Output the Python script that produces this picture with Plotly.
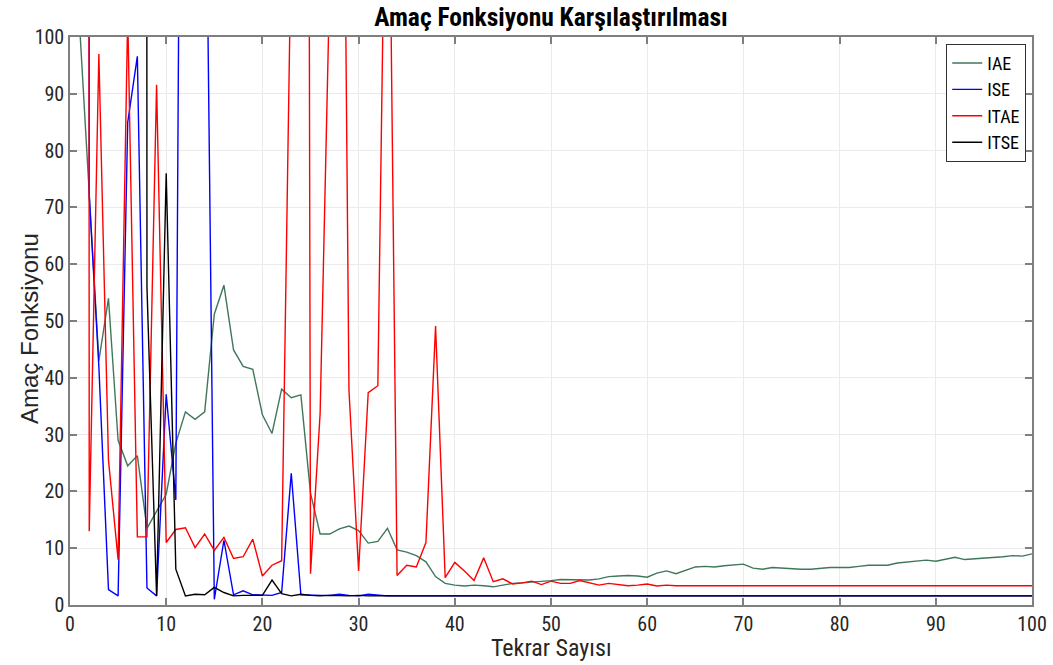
import plotly.graph_objects as go

iterations = list(range(1, 101))

# Values (points above 100 lie outside the visible range)
iae = [102, 72, 43, 54, 29, 24.5, 26.3, 13.5, 16.5, 19.5,
       28.5, 34, 32.7, 34, 51.2, 56.3, 44.9, 42, 41.5, 33.5,
       30.2, 38, 36.5, 37, 19.7, 12.5, 12.5, 13.4, 13.9, 13.1,
       10.9, 11.2, 13.5, 9.7, 9.3, 8.7, 7.6, 5.0, 3.8, 3.5,
       3.35, 3.5, 3.4, 3.2, 3.5, 3.8, 3.9, 4.0, 4.2, 4.3,
       4.5, 4.5, 4.4, 4.4, 4.6, 5.0, 5.1, 5.2, 5.1, 4.9,
       5.6, 6.0, 5.5, 6.1, 6.7, 6.8, 6.7, 6.9, 7.1, 7.2,
       6.5, 6.3, 6.6, 6.5, 6.3, 6.3, 6.3, 6.5, 6.6, 6.6,
       6.6, 6.8, 7.0, 7.0, 7.0, 7.4, 7.6, 7.7, 7.9, 7.7,
       8.0, 8.4, 8.0, 8.1, 8.3, 8.4, 8.5, 8.7, 8.6, 9.0]

ise = [3000, 72, 42, 2.7, 1.6, 85, 96.6, 3.0, 1.6, 37.1,
       18.5, 306, 400, 153, 1.0, 11.4, 1.8, 2.5, 1.8, 1.7,
       1.7, 2.2, 23.2, 1.8, 1.7, 1.7, 1.7, 1.9, 1.7, 1.6,
       1.9, 1.7, 1.6, 1.6, 1.6, 1.6, 1.6, 1.6, 1.6, 1.6,
       1.6, 1.6, 1.6, 1.6, 1.6, 1.6, 1.6, 1.6, 1.6, 1.6,
       1.6, 1.6, 1.6, 1.6, 1.6, 1.6, 1.6, 1.6, 1.6, 1.6,
       1.6, 1.6, 1.6, 1.6, 1.6, 1.6, 1.6, 1.6, 1.6, 1.6,
       1.6, 1.6, 1.6, 1.6, 1.6, 1.6, 1.6, 1.6, 1.6, 1.6,
       1.6, 1.6, 1.6, 1.6, 1.6, 1.6, 1.6, 1.6, 1.6, 1.6,
       1.6, 1.6, 1.6, 1.6, 1.6, 1.6, 1.6, 1.6, 1.6, 1.6]

itae = [4000, 13, 97, 25.5, 8.0, 104, 12, 12, 91.6, 11,
        13.3, 13.6, 10.1, 12.5, 9.6, 11.9, 8.2, 8.5, 11.6, 5.1,
        7.0, 7.8, 118, 800, 5.5, 33.7, 110, 230, 37.8, 6.0,
        37.4, 38.6, 160, 5.2, 7.0, 6.7, 11.0, 49.1, 4.8, 7.5,
        6.0, 4.3, 8.3, 4.1, 4.6, 3.7, 3.9, 4.2, 3.6, 4.2,
        3.8, 3.8, 4.3, 3.9, 3.5, 3.8, 3.6, 3.4, 3.5, 3.7,
        3.35, 3.5, 3.4, 3.4, 3.4, 3.4, 3.4, 3.4, 3.4, 3.45,
        3.4, 3.4, 3.4, 3.4, 3.4, 3.4, 3.4, 3.4, 3.4, 3.4,
        3.4, 3.4, 3.4, 3.4, 3.4, 3.4, 3.4, 3.4, 3.4, 3.4,
        3.4, 3.4, 3.4, 3.4, 3.4, 3.4, 3.4, 3.4, 3.4, 3.4]

itse = [9000, 8000, 7000, 6000, 5000, 4500, 4000, 56, 1.6, 76,
        6.3, 1.6, 1.9, 1.8, 3.1, 2.2, 1.6, 1.7, 1.7, 1.7,
        4.4, 2.0, 1.6, 1.9, 1.7, 1.6, 1.7, 1.6, 1.6, 1.7,
        1.6, 1.65, 1.6, 1.6, 1.6, 1.6, 1.6, 1.6, 1.6, 1.6,
        1.6, 1.6, 1.6, 1.6, 1.6, 1.6, 1.6, 1.6, 1.6, 1.6,
        1.6, 1.6, 1.6, 1.6, 1.6, 1.6, 1.6, 1.6, 1.6, 1.6,
        1.6, 1.6, 1.6, 1.6, 1.6, 1.6, 1.6, 1.6, 1.6, 1.6,
        1.6, 1.6, 1.6, 1.6, 1.6, 1.6, 1.6, 1.6, 1.6, 1.6,
        1.6, 1.6, 1.6, 1.6, 1.6, 1.6, 1.6, 1.6, 1.6, 1.6,
        1.6, 1.6, 1.6, 1.6, 1.6, 1.6, 1.6, 1.6, 1.6, 1.6]

series_names = ["IAE", "ISE", "ITAE", "ITSE"]
series_values = [iae, ise, itae, itse]
series_colors = ["#40775a", "#0000ff", "#ff0000", "#000000"]

title_text = "Amaç Fonksiyonu Karşılaştırılması"
x_title = "Tekrar Sayısı"
y_title = "Amaç Fonksiyonu"

narrow = "Liberation Sans Narrow, Arial Narrow, Roboto Condensed, Roboto, sans-serif"

fig = go.Figure()
for name, vals, col in zip(series_names, series_values, series_colors):
    fig.add_trace(go.Scatter(x=iterations, y=vals, mode="lines", name=name,
                             line=dict(color=col, width=1.4)))

axis_common = dict(
    showgrid=True, gridcolor="#ebebeb", gridwidth=1,
    zeroline=False, showline=True, linecolor="#7f7f7f", linewidth=1.5,
    mirror="ticks", ticks="inside", ticklen=7, tickcolor="#7f7f7f", tickwidth=1.5,
    tickfont=dict(family=narrow, size=20, color="#262626"),
    automargin=False,
)

fig.update_layout(
    width=1053, height=665,
    margin=dict(l=70, r=21, t=37, b=60, autoexpand=False),
    paper_bgcolor="white", plot_bgcolor="white",
    title=dict(text="<b>" + title_text + "</b>", x=0.5, xanchor="center",
               xref="paper", yref="container", y=1 - 17 / 665, yanchor="middle",
               font=dict(family=narrow, size=25.5, color="black")),
    xaxis=dict(range=[0, 100], tick0=0, dtick=10, **axis_common),
    yaxis=dict(range=[0, 100], tick0=0, dtick=10, **axis_common),
    legend=dict(x=0.994, y=0.988, xanchor="right", yanchor="top",
                bgcolor="white", bordercolor="#333333", borderwidth=1,
                font=dict(family=narrow, size=18, color="black"),
                itemwidth=30, tracegroupgap=0),
    showlegend=True,
    annotations=[
        dict(text=x_title, xref="paper", yref="paper", x=0.5, y=(605 - 648) / 568,
             xanchor="center", yanchor="middle", showarrow=False,
             font=dict(family=narrow, size=24, color="#262626")),
        dict(text=y_title, xref="paper", yref="paper", x=(29 - 70) / 962, y=(605 - 329) / 568,
             xanchor="center", yanchor="middle", showarrow=False, textangle=-90,
             font=dict(family="Liberation Sans, Arial, sans-serif", size=24, color="#262626")),
    ],
)

fig.write_html("out.html", config={"displayModeBar": False},
               post_script="document.body.style.margin='0';")
